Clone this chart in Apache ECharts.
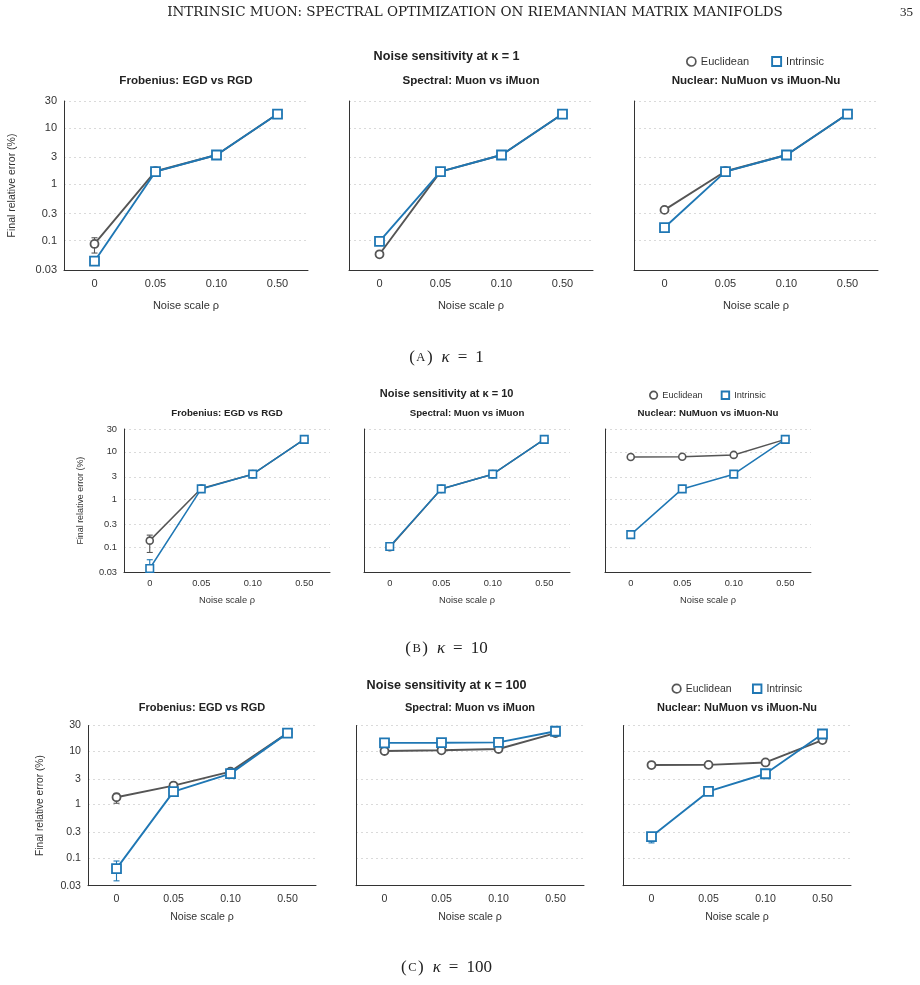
<!DOCTYPE html>
<html><head><meta charset="utf-8">
<script src="https://cdn.jsdelivr.net/npm/echarts@6/dist/echarts.min.js"></script>
<style>html,body{margin:0;padding:0;background:#fff}#c{width:920px;height:985px}</style>
</head><body><div id="c"></div>
<script>
// ---------- data ----------
const categories = ['0', '0.05', '0.10', '0.50'];
const yTicks = [0.03, 0.1, 0.3, 1, 3, 10, 30];
const yTickLabels = ['0.03', '0.1', '0.3', '1', '3', '10', '30'];
const panelTitles = ['Frobenius: EGD vs RGD', 'Spectral: Muon vs iMuon', 'Nuclear: NuMuon vs iMuon-Nu'];
const rowTitles = ['Noise sensitivity at κ = 1', 'Noise sensitivity at κ = 10', 'Noise sensitivity at κ = 100'];
const captionLetters = ['A', 'B', 'C'];
const captionKappas = ['1', '10', '100'];
const seriesNames = ['Euclidean', 'Intrinsic'];

// kappa = 1
const k1FrobEuclid = [0.087, 1.70, 3.3, 17.6];
const k1FrobIntrinsic = [0.043, 1.67, 3.3, 17.6];
const k1SpecEuclid = [0.057, 1.67, 3.3, 17.6];
const k1SpecIntrinsic = [0.097, 1.67, 3.3, 17.6];
const k1NucEuclid = [0.35, 1.70, 3.3, 17.6];
const k1NucIntrinsic = [0.17, 1.67, 3.3, 17.6];
// kappa = 10
const k10FrobEuclid = [0.138, 1.70, 3.4, 18.2];
const k10FrobIntrinsic = [0.036, 1.67, 3.4, 18.2];
const k10SpecEuclid = [0.100, 1.67, 3.4, 18.2];
const k10SpecIntrinsic = [0.104, 1.67, 3.4, 18.2];
const k10NucEuclid = [7.8, 7.9, 8.6, 18.2];
const k10NucIntrinsic = [0.184, 1.67, 3.4, 18.2];
// kappa = 100
const k100FrobEuclid = [1.36, 2.25, 4.1, 21.6];
const k100FrobIntrinsic = [0.0625, 1.73, 3.77, 21.6];
const k100SpecEuclid = [10.0, 10.3, 10.9, 21.6];
const k100SpecIntrinsic = [14.2, 14.3, 14.5, 23.4];
const k100NucEuclid = [5.45, 5.5, 6.1, 16.0];
const k100NucIntrinsic = [0.25, 1.75, 3.75, 20.8];

// error bars: [category index, low, high]
const k1FrobEuclidErr = [[0, 0.06, 0.112]];
const k10FrobEuclidErr = [[0, 0.078, 0.18]];
const k10FrobIntrinsicErr = [[0, 0.03, 0.055]];
const k100FrobEuclidErr = [[0, 1.05, 1.6]];
const k100FrobIntrinsicErr = [[0, 0.037, 0.087]];
const k100NucIntrinsicErr = [[0, 0.19, 0.29]];

// ---------- layout ----------
const GRAY = '#555555', BLUE = '#1f77b4';
const SANS = '"Liberation Sans", Arial, sans-serif';
const SERIF = '"Liberation Serif", "DejaVu Serif", serif';
const HEADSERIF = '"DejaVu Serif", "Liberation Serif", serif';

const rows = [
  { top: 101, height: 169, lefts: [64, 349, 634], width: 244, tick: 11, title: 11.6, sup: 12.6, yname: 10.5,
    supY: 57, titleY: 81, legendLeft: 686, legendTop: 56, legendIcon: 9, legendGap: 22, legendFont: 11,
    nameGapY: 46, nameGapX: 30, labelMargin: 8, capY: 358,
    msC: 8, msS: 9, lw: 1.9, bw: 1.8,
    data: [[k1FrobEuclid, k1FrobIntrinsic], [k1SpecEuclid, k1SpecIntrinsic], [k1NucEuclid, k1NucIntrinsic]],
    err: [[k1FrobEuclidErr, null], [null, null], [null, null]] },
  { top: 429, height: 143.3, lefts: [124, 364, 605], width: 206, tick: 9.3, title: 9.7, sup: 11, yname: 8.9,
    supY: 393.5, titleY: 413.5, legendLeft: 649, legendTop: 390.5, legendIcon: 7.5, legendGap: 18, legendFont: 9.2,
    nameGapY: 39, nameGapX: 24, labelMargin: 7, capY: 649,
    msC: 7, msS: 7.5, lw: 1.5, bw: 1.6,
    data: [[k10FrobEuclid, k10FrobIntrinsic], [k10SpecEuclid, k10SpecIntrinsic], [k10NucEuclid, k10NucIntrinsic]],
    err: [[k10FrobEuclidErr, k10FrobIntrinsicErr], [null, null], [null, null]] },
  { top: 725.5, height: 160.2, lefts: [88, 356, 623], width: 228, tick: 10.6, title: 11, sup: 12.6, yname: 10.2,
    supY: 685.5, titleY: 708, legendLeft: 671.5, legendTop: 683.5, legendIcon: 8.5, legendGap: 20.5, legendFont: 10.4,
    nameGapY: 42.5, nameGapX: 26, labelMargin: 8, capY: 968,
    msC: 8, msS: 9, lw: 1.9, bw: 1.8,
    data: [[k100FrobEuclid, k100FrobIntrinsic], [k100SpecEuclid, k100SpecIntrinsic], [k100NucEuclid, k100NucIntrinsic]],
    err: [[k100FrobEuclidErr, k100FrobIntrinsicErr], [null, null], [null, k100NucIntrinsicErr]] }
];

function yLabel(v) {
  const i = yTicks.findIndex(t => Math.abs(t - v) / t < 1e-6);
  return i >= 0 ? yTickLabels[i] : '';
}
function errRender(color) {
  return function (params, api) {
    const x = api.value(0);
    const lo = api.coord([x, api.value(1)]);
    const hi = api.coord([x, api.value(2)]);
    const cw = 3;
    const st = { stroke: color, lineWidth: 1.1 };
    return { type: 'group', children: [
      { type: 'line', shape: { x1: lo[0], y1: lo[1], x2: hi[0], y2: hi[1] }, style: st },
      { type: 'line', shape: { x1: hi[0] - cw, y1: hi[1], x2: hi[0] + cw, y2: hi[1] }, style: st },
      { type: 'line', shape: { x1: lo[0] - cw, y1: lo[1], x2: lo[0] + cw, y2: lo[1] }, style: st }
    ] };
  };
}

const grid = [], xAxis = [], yAxis = [], series = [], legend = [], graphic = [];

graphic.push({ type: 'text', x: 475, y: 12.5, style: { text: 'INTRINSIC MUON: SPECTRAL OPTIMIZATION ON RIEMANNIAN MATRIX MANIFOLDS',
  font: '13.5px ' + HEADSERIF, fill: '#222', textAlign: 'center', textVerticalAlign: 'middle' } });
graphic.push({ type: 'text', x: 913, y: 12.5, style: { text: '35', font: '13px ' + SERIF, fill: '#222', textAlign: 'right', textVerticalAlign: 'middle' } });

rows.forEach((r, ri) => {
  graphic.push({ type: 'text', x: 446.6, y: r.supY, style: { text: rowTitles[ri], font: 'bold ' + r.sup + 'px ' + SANS,
    fill: '#222', textAlign: 'center', textVerticalAlign: 'middle' } });
  graphic.push({ type: 'text', x: 446.5, y: r.capY, style: {
    text: '{p|(}{s|' + captionLetters[ri] + '}{p|)}{k|κ}{e|=}{p|' + captionKappas[ri] + '}',
    textAlign: 'center', textVerticalAlign: 'middle',
    rich: { p: { font: '17px ' + SERIF, fill: '#222' },
            s: { font: '12.5px ' + SERIF, fill: '#222', padding: [0, 1.5] },
            k: { font: 'italic 17px ' + SERIF, fill: '#222', padding: [0, 0, 0, 9] },
            e: { font: '17px ' + SERIF, fill: '#222', padding: [0, 8] } } } });
  legend.push({
    left: r.legendLeft, top: r.legendTop, itemWidth: r.legendIcon, itemHeight: r.legendIcon, itemGap: r.legendGap,
    padding: 0, selectedMode: false,
    textStyle: { fontFamily: SANS, fontSize: r.legendFont, color: '#333' },
    data: [
      { name: seriesNames[0], icon: 'circle', itemStyle: { color: '#fff', borderColor: GRAY, borderWidth: 1.7 } },
      { name: seriesNames[1], icon: 'rect', itemStyle: { color: '#fff', borderColor: BLUE, borderWidth: 1.9 } }
    ]
  });
  for (let c = 0; c < 3; c++) {
    const gi = ri * 3 + c;
    grid.push({ left: r.lefts[c], top: r.top, width: r.width, height: r.height, containLabel: false, outerBoundsMode: 'none' });
    graphic.push({ type: 'text', x: r.lefts[c] + r.width / 2, y: r.titleY, style: { text: panelTitles[c],
      font: 'bold ' + r.title + 'px ' + SANS, fill: '#222', textAlign: 'center', textVerticalAlign: 'middle' } });
    xAxis.push({
      type: 'category', gridIndex: gi, data: categories, boundaryGap: true,
      name: 'Noise scale ρ', nameLocation: 'middle', nameGap: r.nameGapX,
      nameTextStyle: { fontFamily: SANS, fontSize: r.tick, color: '#333' },
      axisLine: { show: true, lineStyle: { color: '#333', width: 1 } },
      axisTick: { show: false },
      axisLabel: { interval: 0, margin: r.labelMargin, fontFamily: SANS, fontSize: r.tick, color: '#333' },
      splitLine: { show: false }
    });
    yAxis.push({
      type: 'log', logBase: 10, gridIndex: gi, min: 0.03, max: 30,
      name: c === 0 ? 'Final relative error (%)' : '', nameLocation: 'middle', nameRotate: 90, nameGap: r.nameGapY,
      nameTextStyle: { fontFamily: SANS, fontSize: r.yname, color: '#333' },
      axisLine: { show: true, lineStyle: { color: '#333', width: 1 } },
      axisTick: { show: false, customValues: yTicks },
      axisLabel: { show: c === 0, customValues: yTicks, formatter: yLabel, margin: 7, fontFamily: SANS, fontSize: r.tick, color: '#333' },
      splitLine: { show: true, lineStyle: { color: '#dadada', width: 1, type: [2, 3] } }
    });
    const colors = [GRAY, BLUE];
    for (let s = 0; s < 2; s++) {
      const e = r.err[c][s];
      if (e) {
        series.push({ type: 'custom', name: seriesNames[s] + ' err', xAxisIndex: gi, yAxisIndex: gi, z: 1,
          renderItem: errRender(colors[s]), data: e, silent: true, encode: { x: 0, y: [1, 2] } });
      }
    }
    for (let s = 0; s < 2; s++) {
      series.push({
        type: 'line', name: seriesNames[s], xAxisIndex: gi, yAxisIndex: gi, z: 3 + s,
        data: r.data[c][s], symbol: s === 0 ? 'circle' : 'rect', symbolSize: s === 0 ? r.msC : r.msS,
        showAllSymbol: true, animation: false,
        lineStyle: { color: colors[s], width: r.lw },
        itemStyle: { color: '#fff', borderColor: colors[s], borderWidth: r.bw, opacity: 1 },
        emphasis: { disabled: true }
      });
    }
  }
});

const chart = echarts.init(document.getElementById('c'), null, { renderer: 'canvas' });
chart.setOption({ animation: false, backgroundColor: '#fff', grid, xAxis, yAxis, series, legend, graphic });
</script></body></html>
